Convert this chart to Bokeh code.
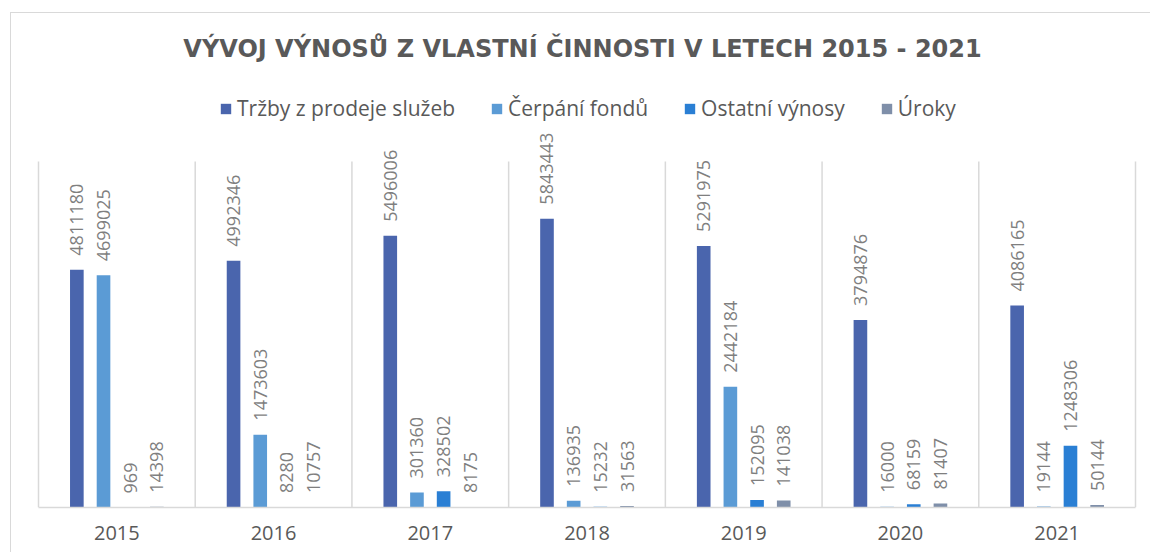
import numpy as np
from bokeh.plotting import figure
from bokeh.models import Range1d, FixedTicker, Legend, LegendItem, Label
from bokeh.core.properties import value
from bokeh.embed import file_html
from bokeh.resources import INLINE

# ---- data ----
years = ["2015", "2016", "2017", "2018", "2019", "2020", "2021"]
series_names = ["Tržby z prodeje služeb", "Čerpání fondů", "Ostatní výnosy", "Úroky"]
trzby = [4811180, 4992346, 5496006, 5843443, 5291975, 3794876, 4086165]
cerpani = [4699025, 1473603, 301360, 136935, 2442184, 16000, 19144]
ostatni = [969, 8280, 328502, 15232, 152095, 68159, 1248306]
uroky = [14398, 10757, 8175, 31563, 141038, 81407, 50144]
axis_max = 7000000
title_text = "VÝVOJ VÝNOSŮ Z VLASTNÍ ČINNOSTI V LETECH 2015 - 2021"

series = [trzby, cerpani, ostatni, uroky]
colors = ["#4A65AD", "#5B9BD5", "#2A7FD4", "#7F8FA9"]
offsets = [-0.2553, -0.0851, 0.0851, 0.2553]
bar_w = 0.087

n = len(years)
centers = np.arange(n) + 0.5
bounds_x = np.arange(n + 1)

# layout: plot area (0..axis_max) is 346 px tall, frame extends to canvas top
canvas_w, canvas_h = 1140, 540
border_bottom = 46
plot_h = 346
frame_h = canvas_h - border_bottom
y_top = axis_max * frame_h / plot_h
cat_px = 1097 / n
pad = 4 / cat_px

p = figure(width=canvas_w, height=canvas_h,
           x_range=Range1d(-pad, n + pad), y_range=Range1d(0, y_top),
           output_backend="svg", toolbar_location=None, y_axis_location=None,
           min_border_left=23, min_border_right=12, min_border_top=0,
           min_border_bottom=border_bottom)
p.styles = {"border-left": "1px solid #d9d9d9", "border-top": "1px solid #d9d9d9",
            "margin-left": "10px", "margin-top": "12px"}
p.outline_line_color = None
p.background_fill_color = "white"
p.xgrid.visible = False
p.ygrid.visible = False

# vertical separators at category boundaries
p.segment(x0=bounds_x, y0=0, x1=bounds_x, y1=axis_max, line_color="#d9d9d9", line_width=1.5)

ax = p.xaxis[0]
ax.bounds = (0, n)
ax.ticker = FixedTicker(ticks=list(centers))
ax.major_label_overrides = {float(c): y for c, y in zip(centers, years)}
ax.axis_line_color = "#d9d9d9"
ax.axis_line_width = 1.5
ax.major_tick_line_color = None
ax.minor_tick_line_color = None
ax.major_label_text_font = "Open Sans"
ax.major_label_text_font_size = "20px"
ax.major_label_text_color = "#595959"
ax.major_label_standoff = 12

renderers = []
for vals, col, off in zip(series, colors, offsets):
    xs = centers + off
    r = p.vbar(x=xs, top=vals, width=bar_w, fill_color=col, line_color=None)
    renderers.append(r)
    p.text(x=xs, y=vals, text=[str(v) for v in vals], angle=np.pi / 2,
           text_align="left", text_baseline="middle", y_offset=-14,
           text_font=value("Open Sans"), text_font_size="18px", text_color="#7f7f7f")

legend = Legend(items=[LegendItem(label=nm, renderers=[r]) for nm, r in zip(series_names, renderers)],
                location=(185, 385), orientation="horizontal",
                glyph_width=13, glyph_height=13, label_standoff=5, spacing=35,
                padding=0, margin=0, border_line_color=None, background_fill_alpha=0,
                label_text_font="Open Sans", label_text_font_size="21px",
                label_text_color="#595959")
p.add_layout(legend)

p.add_layout(Label(x=548, y=459, x_units="screen", y_units="screen", text=title_text,
                   text_align="center", text_baseline="alphabetic",
                   text_font="DejaVu Sans", text_font_style="bold", text_font_size="24px",
                   text_color="#595959"))

open("out.html", "w").write(file_html(p, INLINE))
